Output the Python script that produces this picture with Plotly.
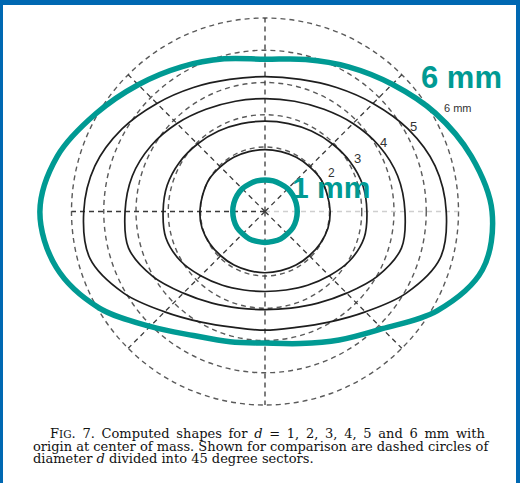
import numpy as np
import plotly.graph_objects as go

W, H = 520, 483

# Drop diameters (mm) and computed outline radii (mm), sampled every 15 degrees
# counter-clockwise from +x, origin at the centre of mass.
diameters = [1, 2, 3, 4, 5, 6]
angles_deg = list(range(0, 360, 15))
r_d1 = [0.50, 0.50, 0.50, 0.50, 0.49, 0.49, 0.49, 0.49, 0.49, 0.50, 0.50, 0.50,
        0.50, 0.50, 0.50, 0.49, 0.49, 0.48, 0.48, 0.48, 0.49, 0.49, 0.50, 0.50]
r_d2 = [1.01, 1.00, 1.00, 0.98, 0.97, 0.96, 0.96, 0.96, 0.97, 0.98, 1.00, 1.00,
        1.01, 1.01, 0.99, 0.97, 0.96, 0.95, 0.95, 0.95, 0.96, 0.97, 0.99, 1.01]
r_d3 = [1.58, 1.57, 1.53, 1.48, 1.44, 1.41, 1.40, 1.41, 1.44, 1.48, 1.53, 1.57,
        1.58, 1.59, 1.52, 1.41, 1.32, 1.26, 1.24, 1.26, 1.32, 1.41, 1.52, 1.59]
r_d4 = [2.17, 2.13, 2.04, 1.93, 1.83, 1.77, 1.75, 1.77, 1.83, 1.93, 2.04, 2.13,
        2.17, 2.19, 2.01, 1.79, 1.64, 1.55, 1.52, 1.55, 1.64, 1.79, 2.01, 2.19]
r_d5 = [2.81, 2.73, 2.56, 2.37, 2.22, 2.12, 2.09, 2.12, 2.22, 2.37, 2.56, 2.73,
        2.81, 2.81, 2.53, 2.20, 1.98, 1.86, 1.84, 1.86, 1.98, 2.20, 2.53, 2.81]
r_d6 = [3.52, 3.31, 3.05, 2.79, 2.59, 2.44, 2.36, 2.45, 2.59, 2.78, 3.03, 3.33,
        3.49, 3.35, 2.98, 2.52, 2.22, 2.09, 2.04, 2.12, 2.30, 2.57, 3.08, 3.49]
radii = [r_d1, r_d2, r_d3, r_d4, r_d5, r_d6]

# Comparison sectors (degrees)
sector_angles = [0, 45, 90, 135, 180, 225, 270, 315]

# Highlighted outlines and their labels
highlight = {1: "1 mm", 6: "6 mm"}

caption = [
    "F<span style='font-size:10.5px'>IG</span>. 7. Computed shapes for <i>d</i> = 1, 2, 3, 4, 5 and 6 mm with",
    "origin at center of mass. Shown for comparison are dashed circles of",
    "diameter <i>d</i> divided into 45 degree sectors.",
]

TEAL = "#009A93"
BLUE = "#0068B2"
INK = "#1e1e1e"
DASH = "#5a5a5a"

# axis ranges: 64.5 px per mm, origin at pixel (265, 211.5)
PX_MM = 64.5
CX, CY = 265.0, 211.5
xr = [(0 - CX) / PX_MM, (W - CX) / PX_MM]
yr = [(CY - H) / PX_MM, (CY - 0) / PX_MM]


def outline(r):
    """Closed path through the sampled radii, starting at the bottom."""
    th = np.deg2rad(angles_deg)
    x = np.array(r) * np.cos(th)
    y = np.array(r) * np.sin(th)
    start = angles_deg.index(270)
    order = list(range(start, len(th))) + list(range(0, start)) + [start]
    return x[order], y[order]


fig = go.Figure()

# computed shapes
for d, r in zip(diameters, radii):
    x, y = outline(r)
    fig.add_trace(go.Scatter(x=x, y=y, mode="lines",
                             line=dict(color=INK, width=1.7, shape="spline", smoothing=1.0),
                             hoverinfo="skip", showlegend=False))

# highlighted outlines
for d, r in zip(diameters, radii):
    if d in highlight:
        x, y = outline(r)
        fig.add_trace(go.Scatter(x=x, y=y, mode="lines",
                                 line=dict(color=TEAL, width=5.5, shape="spline", smoothing=1.0),
                                 hoverinfo="skip", showlegend=False))

shapes = []
# dashed comparison circles of diameter d
for d in diameters:
    shapes.append(dict(type="circle", xref="x", yref="y", layer="below",
                       x0=-d / 2, x1=d / 2, y0=-d / 2, y1=d / 2,
                       line=dict(color=DASH, width=1.4, dash="5px,4px")))
# 45 degree sector lines
rmax = max(diameters) / 2
for a in sector_angles:
    t = np.deg2rad(a)
    shapes.append(dict(type="line", xref="x", yref="y", layer="below",
                       x0=0, y0=0, x1=rmax * np.cos(t), y1=rmax * np.sin(t),
                       line=dict(color="#cfcfcf" if a == 0 else "#3a3a3a",
                                 width=1.3, dash="5px,4px")))
# blue frame
shapes += [
    dict(type="rect", xref="paper", yref="paper", x0=0, x1=1, y0=1 - 5 / H, y1=1,
         fillcolor=BLUE, line=dict(width=0)),
    dict(type="rect", xref="paper", yref="paper", x0=0, x1=3 / W, y0=0, y1=1,
         fillcolor=BLUE, line=dict(width=0)),
    dict(type="rect", xref="paper", yref="paper", x0=516 / W, x1=1, y0=0, y1=1,
         fillcolor=BLUE, line=dict(width=0)),
]

annotations = []
# diameter labels along the 30 degree ray, just outside each outline
i30 = angles_deg.index(30)
t30 = np.deg2rad(30)
label_gap = {2: 0.19, 3: 0.12, 4: 0.09, 5: 0.09, 6: 0.12}
small_font = dict(family="Liberation Sans, Arial", color="#333")
for d, r in zip(diameters, radii):
    if d == 1:
        continue
    rr = r[i30] + label_gap[d]
    if d == 6:
        annotations.append(dict(x=rr * np.cos(t30), y=rr * np.sin(t30) + 0.02,
                                xref="x", yref="y", text="6 mm", showarrow=False,
                                xanchor="left", yanchor="middle",
                                font=dict(size=11, **small_font)))
    else:
        annotations.append(dict(x=rr * np.cos(t30), y=rr * np.sin(t30), xref="x", yref="y",
                                text=str(d), showarrow=False, xanchor="center", yanchor="middle",
                                font=dict(size=12 if d == 2 else 13, **small_font)))

# highlighted labels
annotations.append(dict(x=461 / W, y=1 - 78 / H, xref="paper", yref="paper",
                        text=highlight[6], showarrow=False, xanchor="center", yanchor="middle",
                        font=dict(family="Liberation Sans, Arial", size=31, color=TEAL, weight="bold")))
annotations.append(dict(x=331 / W, y=1 - 188 / H, xref="paper", yref="paper",
                        text=highlight[1], showarrow=False, xanchor="center", yanchor="middle",
                        font=dict(family="Liberation Sans, Arial", size=30, color=TEAL, weight="bold")))

# caption (first line justified with thin spaces)
cap_lines = [caption[0].replace(" ", " \u2009").replace("<span \u2009style", "<span style"),
             caption[1], caption[2]]
cap_x = [48, 31, 31]
cap_y = [433, 446, 458.5]
for txt, cx, cy in zip(cap_lines, cap_x, cap_y):
    annotations.append(dict(x=cx / W, y=1 - cy / H, xref="paper", yref="paper",
                            text=txt, showarrow=False, xanchor="left", yanchor="middle",
                            font=dict(family="DejaVu Serif", size=13.0, color="#111")))

fig.update_layout(
    width=W, height=H,
    margin=dict(l=0, r=0, t=0, b=0, pad=0),
    paper_bgcolor="white", plot_bgcolor="white",
    xaxis=dict(range=xr, visible=False, showgrid=False, zeroline=False, fixedrange=True),
    yaxis=dict(range=yr, visible=False, showgrid=False, zeroline=False, fixedrange=True),
    shapes=shapes, annotations=annotations,
    showlegend=False,
)

fig.write_html("out.html")
